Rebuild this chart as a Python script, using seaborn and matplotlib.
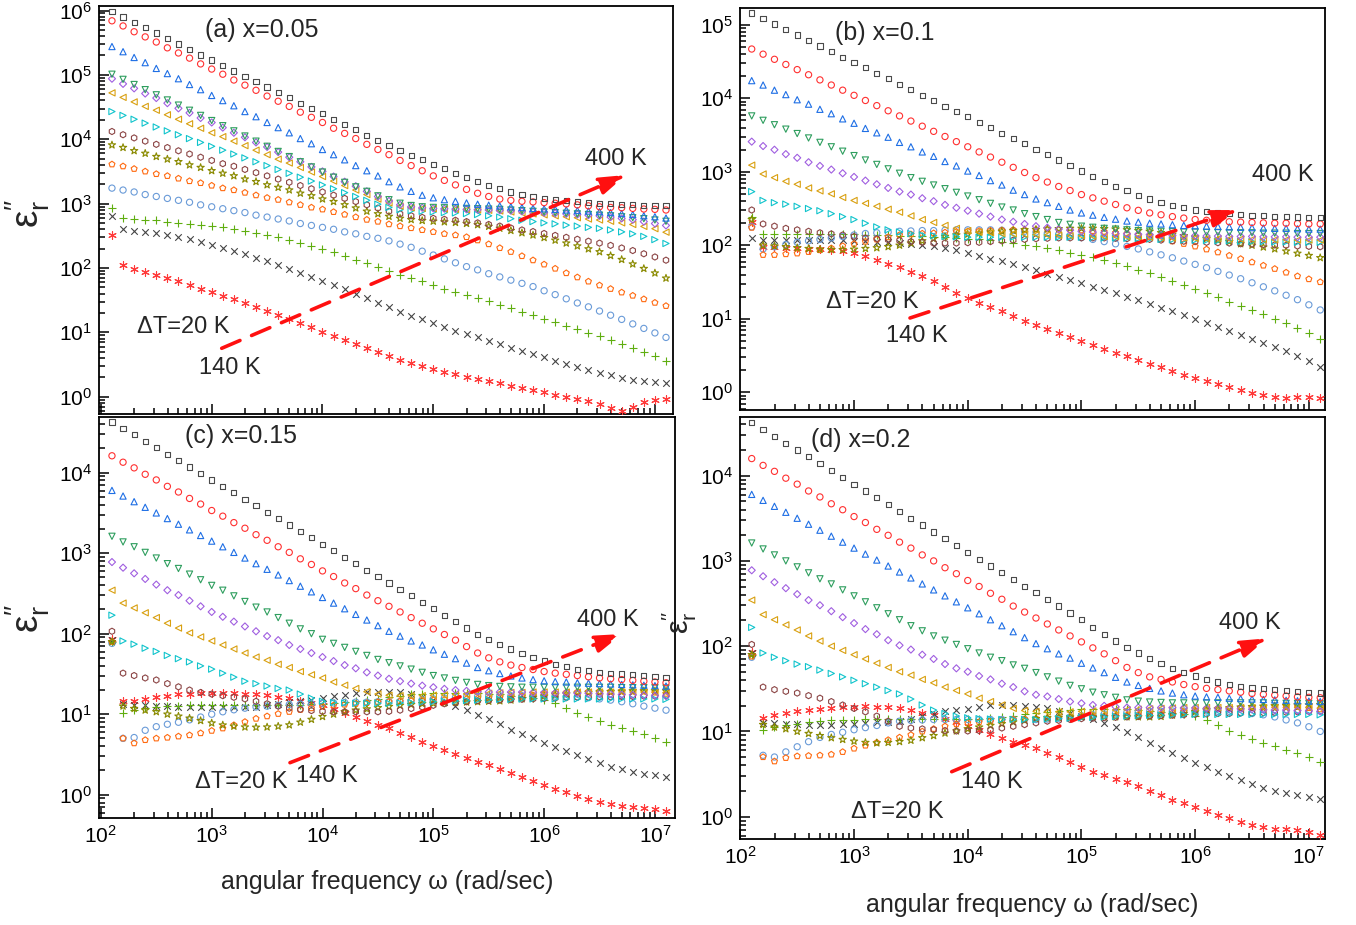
import numpy as np
import pandas as pd
import matplotlib
matplotlib.use("Agg")
import matplotlib.pyplot as plt
import seaborn as sns
from matplotlib.ticker import FixedLocator, LogFormatterMathtext, NullFormatter
from matplotlib.patches import FancyArrowPatch, ArrowStyle

# ---------------- data (log10 values) ----------------
log_omega = [2.1, 2.2, 2.3, 2.4, 2.5, 2.6, 2.7, 2.8, 2.9, 3.0,
             3.1, 3.2, 3.3, 3.4, 3.5, 3.6, 3.7, 3.8, 3.9, 4.0,
             4.1, 4.2, 4.3, 4.4, 4.5, 4.6, 4.7, 4.8, 4.9, 5.0,
             5.1, 5.2, 5.3, 5.4, 5.5, 5.6, 5.7, 5.8, 5.9, 6.0,
             6.1, 6.2, 6.3, 6.4, 6.5, 6.6, 6.7, 6.8, 6.9, 7.0,
             7.1]
temperatures = [400, 380, 360, 340, 320, 300, 280, 260, 240, 220, 200, 180, 160, 140]

# ---- panel (a) x=0.05 ----
a_400 = [5.98, 5.90, 5.81, 5.73, 5.65, 5.56, 5.48, 5.40, 5.31, 5.23,
         5.15, 5.06, 4.98, 4.90, 4.81, 4.73, 4.65, 4.56, 4.48, 4.40,
         4.31, 4.23, 4.15, 4.06, 3.98, 3.90, 3.82, 3.75, 3.68, 3.61,
         3.54, 3.47, 3.40, 3.34, 3.28, 3.23, 3.18, 3.14, 3.105, 3.08,
         3.06, 3.045, 3.03, 3.015, 3.00, 2.995, 2.99, 2.98, 2.975, 2.97,
         2.965]
a_380 = [5.84, 5.76, 5.67, 5.59, 5.51, 5.42, 5.34, 5.26, 5.17, 5.09,
         5.01, 4.92, 4.84, 4.76, 4.67, 4.59, 4.51, 4.42, 4.34, 4.26,
         4.17, 4.09, 4.01, 3.92, 3.84, 3.76, 3.67, 3.59, 3.51, 3.43,
         3.36, 3.29, 3.22, 3.16, 3.11, 3.07, 3.05, 3.035, 3.025, 3.015,
         3.005, 2.995, 2.98, 2.965, 2.95, 2.94, 2.935, 2.925, 2.915, 2.91,
         2.90]
a_360 = [5.44, 5.36, 5.27, 5.19, 5.10, 5.02, 4.94, 4.85, 4.77, 4.68,
         4.60, 4.52, 4.43, 4.35, 4.26, 4.18, 4.10, 4.01, 3.93, 3.84,
         3.76, 3.68, 3.59, 3.51, 3.43, 3.34, 3.26, 3.19, 3.13, 3.09,
         3.06, 3.035, 3.01, 2.99, 2.975, 2.963, 2.95, 2.938, 2.926, 2.918,
         2.91, 2.90, 2.892, 2.883, 2.874, 2.86, 2.845, 2.83, 2.81, 2.795,
         2.775]
a_340 = [5.01, 4.93, 4.85, 4.77, 4.69, 4.61, 4.53, 4.45, 4.37, 4.29,
         4.21, 4.13, 4.05, 3.97, 3.89, 3.81, 3.73, 3.65, 3.57, 3.49,
         3.41, 3.33, 3.26, 3.19, 3.12, 3.06, 3.005, 2.97, 2.95, 2.94,
         2.935, 2.93, 2.925, 2.92, 2.915, 2.91, 2.90, 2.89, 2.88, 2.87,
         2.86, 2.85, 2.84, 2.83, 2.82, 2.81, 2.795, 2.78, 2.765, 2.745,
         2.725]
a_320 = [4.94, 4.86, 4.79, 4.71, 4.64, 4.56, 4.48, 4.41, 4.33, 4.26,
         4.18, 4.10, 4.03, 3.95, 3.88, 3.80, 3.72, 3.65, 3.57, 3.50,
         3.42, 3.34, 3.27, 3.19, 3.11, 3.04, 2.98, 2.95, 2.935, 2.925,
         2.92, 2.915, 2.91, 2.905, 2.90, 2.895, 2.89, 2.88, 2.87, 2.86,
         2.85, 2.84, 2.83, 2.82, 2.81, 2.79, 2.77, 2.75, 2.72, 2.69,
         2.66]
a_300 = [4.72, 4.65, 4.58, 4.51, 4.45, 4.38, 4.31, 4.24, 4.17, 4.10,
         4.04, 3.97, 3.90, 3.83, 3.76, 3.69, 3.63, 3.56, 3.49, 3.42,
         3.35, 3.28, 3.21, 3.14, 3.07, 3.01, 2.96, 2.935, 2.925, 2.92,
         2.915, 2.91, 2.905, 2.90, 2.895, 2.885, 2.87, 2.855, 2.84, 2.825,
         2.81, 2.795, 2.78, 2.76, 2.745, 2.725, 2.70, 2.675, 2.645, 2.61,
         2.555]
a_280 = [4.43, 4.37, 4.31, 4.25, 4.19, 4.13, 4.07, 4.01, 3.95, 3.89,
         3.83, 3.77, 3.71, 3.65, 3.59, 3.53, 3.47, 3.41, 3.35, 3.29,
         3.23, 3.17, 3.11, 3.05, 2.99, 2.94, 2.905, 2.89, 2.88, 2.87,
         2.86, 2.855, 2.845, 2.83, 2.81, 2.79, 2.765, 2.74, 2.72, 2.70,
         2.685, 2.665, 2.65, 2.63, 2.615, 2.59, 2.56, 2.53, 2.49, 2.44,
         2.38]
a_260 = [4.12, 4.07, 4.02, 3.97, 3.92, 3.87, 3.82, 3.77, 3.72, 3.67,
         3.62, 3.58, 3.53, 3.48, 3.43, 3.38, 3.33, 3.28, 3.23, 3.18,
         3.13, 3.08, 3.03, 2.98, 2.93, 2.88, 2.84, 2.81, 2.785, 2.77,
         2.755, 2.74, 2.72, 2.70, 2.675, 2.65, 2.62, 2.59, 2.565, 2.535,
         2.505, 2.475, 2.445, 2.415, 2.385, 2.35, 2.31, 2.27, 2.22, 2.17,
         2.12]
a_240 = [3.91, 3.87, 3.82, 3.78, 3.73, 3.69, 3.65, 3.60, 3.56, 3.51,
         3.47, 3.43, 3.38, 3.34, 3.29, 3.25, 3.21, 3.16, 3.12, 3.07,
         3.03, 2.98, 2.93, 2.88, 2.84, 2.80, 2.77, 2.75, 2.735, 2.725,
         2.715, 2.705, 2.69, 2.67, 2.645, 2.615, 2.58, 2.545, 2.51, 2.47,
         2.43, 2.385, 2.34, 2.295, 2.25, 2.19, 2.13, 2.06, 1.99, 1.92,
         1.84]
a_220 = [3.61, 3.58, 3.54, 3.50, 3.46, 3.43, 3.39, 3.35, 3.32, 3.28,
         3.24, 3.21, 3.17, 3.13, 3.09, 3.06, 3.02, 2.98, 2.94, 2.91,
         2.87, 2.83, 2.79, 2.75, 2.72, 2.68, 2.65, 2.62, 2.59, 2.56,
         2.53, 2.51, 2.48, 2.43, 2.37, 2.31, 2.25, 2.185, 2.12, 2.055,
         1.99, 1.92, 1.855, 1.79, 1.73, 1.675, 1.62, 1.57, 1.515, 1.46,
         1.41]
a_200 = [3.24, 3.21, 3.18, 3.14, 3.11, 3.08, 3.05, 3.02, 2.98, 2.95,
         2.92, 2.89, 2.86, 2.82, 2.79, 2.76, 2.73, 2.69, 2.66, 2.63,
         2.60, 2.56, 2.53, 2.49, 2.46, 2.42, 2.37, 2.32, 2.26, 2.20,
         2.14, 2.08, 2.02, 1.97, 1.91, 1.86, 1.81, 1.76, 1.71, 1.645,
         1.585, 1.52, 1.455, 1.395, 1.33, 1.265, 1.20, 1.13, 1.06, 0.99,
         0.92]
a_180 = [2.93, 2.77, 2.76, 2.75, 2.74, 2.72, 2.705, 2.69, 2.67, 2.65,
         2.63, 2.605, 2.58, 2.55, 2.515, 2.475, 2.435, 2.39, 2.345, 2.30,
         2.245, 2.19, 2.13, 2.07, 2.01, 1.95, 1.89, 1.84, 1.79, 1.74,
         1.68, 1.63, 1.58, 1.53, 1.48, 1.43, 1.37, 1.32, 1.27, 1.21,
         1.16, 1.10, 1.05, 0.99, 0.94, 0.88, 0.82, 0.76, 0.70, 0.63,
         0.55]
a_160 = [2.81, 2.60, 2.58, 2.56, 2.54, 2.51, 2.48, 2.445, 2.405, 2.36,
         2.31, 2.26, 2.21, 2.16, 2.10, 2.04, 1.98, 1.92, 1.86, 1.80,
         1.73, 1.67, 1.60, 1.53, 1.46, 1.39, 1.32, 1.26, 1.20, 1.14,
         1.08, 1.02, 0.97, 0.92, 0.86, 0.81, 0.76, 0.71, 0.66, 0.61,
         0.56, 0.51, 0.46, 0.41, 0.37, 0.33, 0.29, 0.265, 0.245, 0.23,
         0.215]
a_140 = [2.51, 2.04, 1.99, 1.94, 1.89, 1.84, 1.79, 1.735, 1.68, 1.62,
         1.565, 1.51, 1.455, 1.395, 1.335, 1.27, 1.205, 1.14, 1.075, 1.01,
         0.945, 0.88, 0.815, 0.75, 0.69, 0.63, 0.57, 0.52, 0.475, 0.43,
         0.39, 0.35, 0.31, 0.275, 0.24, 0.205, 0.17, 0.135, 0.10, 0.065,
         0.03, -0.005, -0.04, -0.075, -0.11, -0.17, -0.23, -0.16, -0.08, -0.045,
         -0.035]

# ---- panel (b) x=0.1 ----
b_400 = [5.16, 5.09, 5.01, 4.94, 4.86, 4.79, 4.71, 4.64, 4.56, 4.49,
         4.42, 4.34, 4.27, 4.19, 4.12, 4.04, 3.97, 3.89, 3.82, 3.75,
         3.67, 3.60, 3.52, 3.45, 3.38, 3.30, 3.23, 3.16, 3.08, 3.01,
         2.94, 2.87, 2.80, 2.74, 2.68, 2.63, 2.58, 2.54, 2.51, 2.48,
         2.46, 2.44, 2.43, 2.42, 2.41, 2.40, 2.395, 2.39, 2.385, 2.38,
         2.375]
b_380 = [4.67, 4.60, 4.53, 4.46, 4.39, 4.32, 4.25, 4.18, 4.11, 4.04,
         3.97, 3.90, 3.83, 3.76, 3.69, 3.62, 3.55, 3.48, 3.41, 3.34,
         3.27, 3.20, 3.13, 3.06, 2.99, 2.92, 2.86, 2.80, 2.745, 2.69,
         2.645, 2.60, 2.555, 2.51, 2.475, 2.44, 2.415, 2.39, 2.37, 2.35,
         2.34, 2.33, 2.32, 2.315, 2.31, 2.305, 2.30, 2.30, 2.295, 2.29,
         2.29]
b_360 = [4.24, 4.18, 4.11, 4.05, 3.98, 3.92, 3.85, 3.79, 3.72, 3.66,
         3.59, 3.53, 3.47, 3.40, 3.34, 3.27, 3.21, 3.14, 3.08, 3.01,
         2.95, 2.88, 2.82, 2.75, 2.69, 2.63, 2.58, 2.53, 2.48, 2.44,
         2.41, 2.38, 2.355, 2.33, 2.315, 2.30, 2.29, 2.28, 2.27, 2.265,
         2.26, 2.255, 2.25, 2.245, 2.24, 2.235, 2.23, 2.23, 2.225, 2.22,
         2.22]
b_340 = [3.76, 3.70, 3.64, 3.58, 3.52, 3.46, 3.40, 3.34, 3.28, 3.22,
         3.16, 3.10, 3.04, 2.98, 2.92, 2.87, 2.82, 2.77, 2.72, 2.67,
         2.62, 2.57, 2.52, 2.48, 2.43, 2.39, 2.35, 2.31, 2.285, 2.26,
         2.245, 2.23, 2.22, 2.21, 2.20, 2.195, 2.19, 2.185, 2.18, 2.18,
         2.175, 2.175, 2.17, 2.17, 2.17, 2.165, 2.165, 2.165, 2.16, 2.16,
         2.16]
b_320 = [3.41, 3.35, 3.30, 3.24, 3.19, 3.13, 3.08, 3.03, 2.98, 2.93,
         2.88, 2.83, 2.78, 2.73, 2.69, 2.64, 2.60, 2.55, 2.51, 2.47,
         2.43, 2.39, 2.35, 2.32, 2.29, 2.26, 2.24, 2.22, 2.205, 2.19,
         2.18, 2.17, 2.16, 2.155, 2.15, 2.145, 2.14, 2.135, 2.13, 2.13,
         2.125, 2.125, 2.12, 2.12, 2.12, 2.115, 2.115, 2.115, 2.11, 2.11,
         2.11]
b_300 = [3.09, 2.97, 2.92, 2.87, 2.83, 2.78, 2.74, 2.70, 2.65, 2.61,
         2.57, 2.53, 2.49, 2.45, 2.40, 2.35, 2.31, 2.27, 2.23, 2.20,
         2.18, 2.17, 2.16, 2.155, 2.15, 2.145, 2.14, 2.135, 2.13, 2.13,
         2.125, 2.12, 2.12, 2.115, 2.11, 2.11, 2.105, 2.10, 2.10, 2.095,
         2.09, 2.09, 2.085, 2.085, 2.08, 2.08, 2.075, 2.075, 2.07, 2.07,
         2.07]
b_280 = [2.73, 2.61, 2.58, 2.56, 2.53, 2.50, 2.47, 2.43, 2.39, 2.35,
         2.30, 2.25, 2.21, 2.18, 2.16, 2.14, 2.13, 2.12, 2.115, 2.11,
         2.11, 2.11, 2.11, 2.11, 2.11, 2.11, 2.11, 2.11, 2.11, 2.11,
         2.105, 2.10, 2.10, 2.095, 2.09, 2.085, 2.08, 2.075, 2.07, 2.07,
         2.065, 2.06, 2.06, 2.055, 2.05, 2.05, 2.045, 2.045, 2.04, 2.04,
         2.04]
b_260 = [2.48, 2.29, 2.26, 2.23, 2.21, 2.19, 2.17, 2.155, 2.14, 2.12,
         2.10, 2.09, 2.075, 2.065, 2.05, 2.04, 2.03, 2.03, 2.03, 2.035,
         2.04, 2.05, 2.06, 2.07, 2.08, 2.09, 2.095, 2.10, 2.10, 2.10,
         2.10, 2.10, 2.095, 2.09, 2.085, 2.08, 2.07, 2.06, 2.055, 2.05,
         2.04, 2.035, 2.03, 2.02, 2.015, 2.01, 2.005, 2.00, 1.99, 1.985,
         1.98]
b_240 = [2.35, 2.00, 1.99, 1.98, 1.965, 1.955, 1.945, 1.94, 1.94, 1.945,
         1.955, 1.965, 1.98, 2.00, 2.03, 2.06, 2.09, 2.12, 2.14, 2.15,
         2.165, 2.18, 2.19, 2.20, 2.21, 2.215, 2.22, 2.225, 2.23, 2.23,
         2.23, 2.225, 2.22, 2.21, 2.20, 2.19, 2.17, 2.15, 2.13, 2.11,
         2.09, 2.07, 2.05, 2.02, 2.00, 1.975, 1.95, 1.92, 1.89, 1.86,
         1.83]
b_220 = [2.24, 1.87, 1.87, 1.88, 1.89, 1.91, 1.935, 1.96, 1.99, 2.02,
         2.05, 2.08, 2.11, 2.14, 2.15, 2.16, 2.165, 2.175, 2.185, 2.19,
         2.195, 2.20, 2.205, 2.21, 2.21, 2.215, 2.215, 2.215, 2.21, 2.205,
         2.195, 2.185, 2.17, 2.155, 2.135, 2.11, 2.085, 2.055, 2.02, 1.985,
         1.945, 1.905, 1.86, 1.815, 1.77, 1.725, 1.68, 1.63, 1.58, 1.54,
         1.50]
b_200 = [2.25, 1.95, 1.98, 2.01, 2.04, 2.06, 2.08, 2.10, 2.12, 2.14,
         2.16, 2.17, 2.18, 2.19, 2.195, 2.20, 2.20, 2.205, 2.21, 2.21,
         2.21, 2.21, 2.205, 2.20, 2.19, 2.18, 2.165, 2.15, 2.13, 2.105,
         2.08, 2.05, 2.02, 1.985, 1.95, 1.91, 1.87, 1.83, 1.785, 1.74,
         1.695, 1.645, 1.595, 1.545, 1.49, 1.435, 1.38, 1.32, 1.26, 1.19,
         1.12]
b_180 = [2.39, 2.16, 2.16, 2.16, 2.16, 2.16, 2.16, 2.16, 2.155, 2.15,
         2.145, 2.14, 2.135, 2.13, 2.125, 2.12, 2.115, 2.11, 2.10, 2.09,
         2.08, 2.065, 2.05, 2.03, 2.01, 1.985, 1.96, 1.93, 1.90, 1.87,
         1.835, 1.80, 1.76, 1.715, 1.67, 1.62, 1.57, 1.515, 1.46, 1.40,
         1.345, 1.29, 1.235, 1.18, 1.12, 1.06, 1.00, 0.94, 0.87, 0.80,
         0.73]
b_160 = [2.10, 2.07, 2.07, 2.07, 2.07, 2.07, 2.07, 2.07, 2.065, 2.06,
         2.055, 2.05, 2.04, 2.03, 2.02, 2.005, 1.99, 1.96, 1.93, 1.90,
         1.86, 1.82, 1.78, 1.74, 1.70, 1.66, 1.615, 1.57, 1.525, 1.48,
         1.435, 1.39, 1.345, 1.30, 1.25, 1.20, 1.15, 1.10, 1.05, 0.995,
         0.94, 0.885, 0.83, 0.775, 0.72, 0.665, 0.61, 0.555, 0.49, 0.42,
         0.35]
b_140 = [2.32, 1.98, 1.97, 1.965, 1.96, 1.955, 1.95, 1.94, 1.92, 1.89,
         1.85, 1.80, 1.75, 1.70, 1.64, 1.58, 1.51, 1.43, 1.35, 1.28,
         1.22, 1.16, 1.10, 1.04, 0.97, 0.91, 0.86, 0.80, 0.75, 0.70,
         0.645, 0.59, 0.54, 0.49, 0.44, 0.39, 0.34, 0.29, 0.24, 0.20,
         0.155, 0.11, 0.07, 0.03, -0.01, -0.04, -0.065, -0.075, -0.07, -0.07,
         -0.08]

# ---- panel (c) x=0.15 ----
c_400 = [4.63, 4.55, 4.47, 4.39, 4.31, 4.23, 4.15, 4.07, 3.99, 3.91,
         3.83, 3.75, 3.67, 3.59, 3.51, 3.43, 3.35, 3.27, 3.19, 3.11,
         3.03, 2.95, 2.87, 2.79, 2.71, 2.63, 2.55, 2.47, 2.39, 2.31,
         2.23, 2.15, 2.07, 1.99, 1.93, 1.87, 1.81, 1.75, 1.70, 1.66,
         1.62, 1.59, 1.56, 1.54, 1.52, 1.51, 1.50, 1.49, 1.48, 1.47,
         1.46]
c_380 = [4.21, 4.13, 4.06, 3.98, 3.91, 3.83, 3.76, 3.68, 3.61, 3.53,
         3.46, 3.38, 3.31, 3.23, 3.16, 3.08, 3.01, 2.93, 2.86, 2.78,
         2.71, 2.63, 2.56, 2.48, 2.41, 2.34, 2.27, 2.20, 2.13, 2.06,
         1.99, 1.92, 1.84, 1.76, 1.70, 1.65, 1.61, 1.58, 1.555, 1.53,
         1.51, 1.495, 1.48, 1.465, 1.45, 1.44, 1.43, 1.42, 1.41, 1.40,
         1.39]
c_360 = [3.78, 3.71, 3.64, 3.57, 3.50, 3.43, 3.36, 3.29, 3.22, 3.15,
         3.08, 3.01, 2.94, 2.87, 2.80, 2.73, 2.66, 2.59, 2.52, 2.45,
         2.38, 2.31, 2.24, 2.17, 2.10, 2.03, 1.97, 1.91, 1.86, 1.80,
         1.745, 1.69, 1.635, 1.58, 1.54, 1.505, 1.475, 1.45, 1.43, 1.415,
         1.405, 1.40, 1.39, 1.385, 1.38, 1.375, 1.37, 1.365, 1.36, 1.355,
         1.35]
c_340 = [3.21, 3.14, 3.08, 3.01, 2.94, 2.87, 2.81, 2.74, 2.67, 2.60,
         2.54, 2.47, 2.40, 2.33, 2.27, 2.20, 2.13, 2.06, 2.00, 1.93,
         1.88, 1.83, 1.78, 1.73, 1.68, 1.64, 1.60, 1.56, 1.52, 1.48,
         1.45, 1.42, 1.395, 1.37, 1.355, 1.345, 1.34, 1.335, 1.335, 1.335,
         1.335, 1.335, 1.335, 1.335, 1.335, 1.335, 1.33, 1.33, 1.33, 1.33,
         1.325]
c_320 = [2.89, 2.82, 2.75, 2.68, 2.61, 2.54, 2.48, 2.41, 2.34, 2.27,
         2.21, 2.15, 2.09, 2.03, 1.97, 1.92, 1.86, 1.81, 1.76, 1.71,
         1.66, 1.61, 1.57, 1.52, 1.48, 1.44, 1.41, 1.38, 1.355, 1.335,
         1.315, 1.30, 1.29, 1.28, 1.275, 1.275, 1.275, 1.275, 1.27, 1.27,
         1.265, 1.265, 1.26, 1.26, 1.255, 1.25, 1.245, 1.24, 1.235, 1.23,
         1.225]
c_300 = [2.54, 2.38, 2.32, 2.26, 2.20, 2.13, 2.07, 2.01, 1.96, 1.91,
         1.86, 1.81, 1.76, 1.71, 1.67, 1.62, 1.58, 1.53, 1.49, 1.45,
         1.40, 1.36, 1.32, 1.28, 1.25, 1.235, 1.23, 1.23, 1.23, 1.235,
         1.24, 1.245, 1.25, 1.255, 1.26, 1.265, 1.27, 1.27, 1.275, 1.275,
         1.275, 1.275, 1.275, 1.275, 1.275, 1.275, 1.275, 1.275, 1.275, 1.27,
         1.27]
c_280 = [2.23, 1.91, 1.87, 1.82, 1.78, 1.73, 1.69, 1.65, 1.60, 1.56,
         1.51, 1.46, 1.41, 1.38, 1.35, 1.32, 1.30, 1.25, 1.20, 1.16,
         1.145, 1.14, 1.135, 1.135, 1.135, 1.135, 1.14, 1.145, 1.15, 1.155,
         1.16, 1.165, 1.17, 1.175, 1.18, 1.185, 1.185, 1.19, 1.19, 1.19,
         1.19, 1.19, 1.19, 1.19, 1.19, 1.19, 1.19, 1.19, 1.19, 1.19,
         1.185]
c_260 = [2.03, 1.51, 1.48, 1.45, 1.425, 1.38, 1.34, 1.30, 1.27, 1.25,
         1.23, 1.21, 1.19, 1.16, 1.13, 1.10, 1.075, 1.06, 1.045, 1.035,
         1.03, 1.03, 1.03, 1.03, 1.03, 1.035, 1.05, 1.07, 1.09, 1.11,
         1.13, 1.145, 1.155, 1.165, 1.17, 1.175, 1.18, 1.185, 1.19, 1.195,
         1.20, 1.205, 1.21, 1.21, 1.215, 1.215, 1.22, 1.22, 1.225, 1.225,
         1.23]
c_240 = [1.90, 1.10, 1.07, 1.05, 1.03, 1.00, 0.975, 0.95, 0.92, 0.89,
         0.865, 0.85, 0.84, 0.837, 0.84, 0.85, 0.866, 0.90, 0.935, 0.97,
         1.00, 1.03, 1.05, 1.065, 1.08, 1.095, 1.11, 1.12, 1.13, 1.135,
         1.14, 1.145, 1.15, 1.155, 1.16, 1.165, 1.175, 1.19, 1.21, 1.225,
         1.24, 1.25, 1.26, 1.27, 1.275, 1.28, 1.285, 1.29, 1.29, 1.29,
         1.29]
c_220 = [1.90, 0.70, 0.64, 0.68, 0.70, 0.71, 0.725, 0.74, 0.765, 0.795,
         0.825, 0.865, 0.905, 0.945, 0.975, 1.005, 1.03, 1.055, 1.075, 1.095,
         1.11, 1.12, 1.13, 1.14, 1.15, 1.155, 1.16, 1.165, 1.17, 1.175,
         1.18, 1.185, 1.19, 1.195, 1.20, 1.205, 1.21, 1.22, 1.235, 1.25,
         1.26, 1.27, 1.275, 1.28, 1.285, 1.285, 1.29, 1.29, 1.285, 1.27,
         1.255]
c_200 = [1.88, 0.70, 0.71, 0.80, 0.845, 0.875, 0.90, 0.93, 0.965, 1.00,
         1.03, 1.055, 1.075, 1.09, 1.10, 1.11, 1.12, 1.125, 1.13, 1.135,
         1.14, 1.145, 1.15, 1.15, 1.155, 1.156, 1.16, 1.17, 1.18, 1.19,
         1.20, 1.21, 1.215, 1.22, 1.225, 1.23, 1.23, 1.23, 1.23, 1.23,
         1.225, 1.22, 1.215, 1.205, 1.19, 1.175, 1.155, 1.13, 1.10, 1.075,
         1.05]
c_180 = [1.90, 1.02, 1.05, 1.075, 1.094, 1.10, 1.105, 1.11, 1.11, 1.115,
         1.115, 1.115, 1.115, 1.115, 1.115, 1.115, 1.115, 1.12, 1.125, 1.13,
         1.14, 1.15, 1.16, 1.175, 1.195, 1.215, 1.23, 1.245, 1.255, 1.26,
         1.265, 1.265, 1.265, 1.26, 1.255, 1.245, 1.23, 1.215, 1.20, 1.18,
         1.135, 1.075, 1.015, 0.965, 0.915, 0.87, 0.83, 0.79, 0.75, 0.70,
         0.65]
c_160 = [1.92, 1.13, 1.12, 1.11, 1.10, 1.10, 1.095, 1.094, 1.09, 1.09,
         1.09, 1.09, 1.09, 1.095, 1.11, 1.13, 1.15, 1.165, 1.18, 1.197,
         1.22, 1.24, 1.26, 1.27, 1.275, 1.28, 1.27, 1.245, 1.215, 1.18,
         1.15, 1.10, 1.05, 0.995, 0.935, 0.875, 0.81, 0.755, 0.70, 0.645,
         0.595, 0.54, 0.49, 0.44, 0.395, 0.35, 0.315, 0.285, 0.26, 0.24,
         0.22]
c_140 = [1.93, 1.16, 1.17, 1.19, 1.21, 1.23, 1.245, 1.255, 1.26, 1.26,
         1.26, 1.26, 1.255, 1.25, 1.235, 1.215, 1.20, 1.17, 1.145, 1.115,
         1.07, 1.02, 0.97, 0.92, 0.87, 0.825, 0.77, 0.715, 0.66, 0.605,
         0.55, 0.50, 0.455, 0.41, 0.365, 0.315, 0.265, 0.215, 0.165, 0.12,
         0.075, 0.03, -0.01, -0.05, -0.085, -0.115, -0.135, -0.15, -0.165, -0.18,
         -0.20]

# ---- panel (d) x=0.2 ----
d_400 = [4.62, 4.54, 4.46, 4.38, 4.30, 4.22, 4.14, 4.06, 3.98, 3.90,
         3.82, 3.74, 3.66, 3.58, 3.50, 3.42, 3.34, 3.26, 3.18, 3.10,
         3.02, 2.94, 2.86, 2.78, 2.70, 2.63, 2.55, 2.47, 2.39, 2.31,
         2.22, 2.14, 2.06, 1.98, 1.92, 1.86, 1.80, 1.74, 1.69, 1.65,
         1.61, 1.58, 1.55, 1.53, 1.51, 1.50, 1.49, 1.48, 1.47, 1.46,
         1.45]
d_380 = [4.20, 4.12, 4.05, 3.97, 3.90, 3.82, 3.75, 3.67, 3.60, 3.52,
         3.45, 3.37, 3.30, 3.22, 3.15, 3.07, 3.00, 2.92, 2.85, 2.77,
         2.70, 2.62, 2.55, 2.47, 2.40, 2.33, 2.26, 2.19, 2.12, 2.05,
         1.98, 1.91, 1.83, 1.75, 1.69, 1.64, 1.61, 1.58, 1.55, 1.525,
         1.505, 1.49, 1.475, 1.46, 1.445, 1.435, 1.425, 1.415, 1.405, 1.40,
         1.395]
d_360 = [3.78, 3.71, 3.64, 3.57, 3.50, 3.43, 3.36, 3.29, 3.22, 3.15,
         3.08, 3.01, 2.94, 2.87, 2.80, 2.73, 2.66, 2.59, 2.52, 2.45,
         2.38, 2.31, 2.24, 2.17, 2.10, 2.03, 1.97, 1.91, 1.86, 1.80,
         1.745, 1.69, 1.635, 1.58, 1.54, 1.505, 1.475, 1.45, 1.43, 1.415,
         1.405, 1.40, 1.39, 1.385, 1.38, 1.375, 1.37, 1.365, 1.36, 1.355,
         1.35]
d_340 = [3.21, 3.14, 3.07, 3.00, 2.93, 2.86, 2.79, 2.73, 2.66, 2.59,
         2.52, 2.45, 2.38, 2.31, 2.24, 2.18, 2.12, 2.07, 2.02, 1.97,
         1.92, 1.87, 1.83, 1.78, 1.74, 1.69, 1.64, 1.59, 1.54, 1.50,
         1.46, 1.43, 1.40, 1.37, 1.355, 1.345, 1.34, 1.335, 1.335, 1.335,
         1.335, 1.335, 1.335, 1.335, 1.335, 1.335, 1.33, 1.33, 1.33, 1.33,
         1.325]
d_320 = [2.89, 2.82, 2.75, 2.68, 2.61, 2.54, 2.48, 2.41, 2.34, 2.27,
         2.20, 2.14, 2.07, 2.01, 1.96, 1.90, 1.85, 1.79, 1.74, 1.70,
         1.65, 1.61, 1.56, 1.52, 1.47, 1.43, 1.41, 1.38, 1.35, 1.33,
         1.31, 1.30, 1.29, 1.28, 1.28, 1.28, 1.28, 1.28, 1.275, 1.275,
         1.27, 1.27, 1.265, 1.265, 1.26, 1.255, 1.25, 1.25, 1.245, 1.24,
         1.235]
d_300 = [2.54, 2.37, 2.31, 2.25, 2.19, 2.12, 2.06, 2.00, 1.95, 1.90,
         1.85, 1.80, 1.75, 1.70, 1.66, 1.61, 1.57, 1.52, 1.48, 1.44,
         1.39, 1.35, 1.31, 1.27, 1.245, 1.235, 1.23, 1.23, 1.23, 1.235,
         1.24, 1.245, 1.25, 1.255, 1.26, 1.265, 1.27, 1.275, 1.28, 1.28,
         1.28, 1.28, 1.28, 1.28, 1.28, 1.28, 1.28, 1.28, 1.28, 1.28,
         1.275]
d_280 = [2.22, 1.92, 1.87, 1.83, 1.79, 1.76, 1.72, 1.68, 1.64, 1.60,
         1.56, 1.52, 1.48, 1.44, 1.38, 1.31, 1.25, 1.21, 1.18, 1.16,
         1.15, 1.145, 1.14, 1.14, 1.14, 1.14, 1.145, 1.15, 1.155, 1.16,
         1.165, 1.17, 1.175, 1.18, 1.185, 1.19, 1.19, 1.195, 1.195, 1.20,
         1.20, 1.20, 1.20, 1.20, 1.20, 1.20, 1.20, 1.20, 1.20, 1.20,
         1.195]
d_260 = [2.02, 1.52, 1.49, 1.47, 1.45, 1.42, 1.39, 1.35, 1.31, 1.27,
         1.23, 1.18, 1.12, 1.06, 1.04, 1.03, 1.02, 1.01, 1.005, 1.005,
         1.01, 1.02, 1.04, 1.06, 1.08, 1.10, 1.12, 1.13, 1.14, 1.15,
         1.155, 1.16, 1.165, 1.17, 1.175, 1.18, 1.185, 1.19, 1.195, 1.20,
         1.205, 1.21, 1.21, 1.215, 1.215, 1.22, 1.22, 1.225, 1.23, 1.235,
         1.235]
d_240 = [1.90, 1.08, 1.05, 1.03, 1.00, 0.975, 0.95, 0.925, 0.905, 0.885,
         0.87, 0.865, 0.87, 0.88, 0.895, 0.925, 0.95, 0.98, 1.005, 1.03,
         1.05, 1.07, 1.09, 1.11, 1.13, 1.15, 1.16, 1.165, 1.17, 1.17,
         1.17, 1.17, 1.17, 1.17, 1.17, 1.17, 1.175, 1.19, 1.21, 1.23,
         1.25, 1.265, 1.275, 1.285, 1.29, 1.295, 1.30, 1.305, 1.31, 1.31,
         1.315]
d_220 = [1.88, 0.70, 0.65, 0.69, 0.71, 0.715, 0.72, 0.73, 0.76, 0.80,
         0.835, 0.87, 0.90, 0.93, 0.96, 1.00, 1.03, 1.06, 1.085, 1.10,
         1.11, 1.12, 1.13, 1.14, 1.145, 1.15, 1.155, 1.16, 1.165, 1.17,
         1.175, 1.18, 1.185, 1.19, 1.195, 1.20, 1.205, 1.215, 1.23, 1.245,
         1.26, 1.27, 1.275, 1.28, 1.285, 1.29, 1.295, 1.295, 1.29, 1.275,
         1.26]
d_200 = [1.87, 0.72, 0.70, 0.76, 0.82, 0.88, 0.93, 0.965, 0.99, 1.02,
         1.045, 1.07, 1.10, 1.12, 1.13, 1.135, 1.14, 1.14, 1.14, 1.14,
         1.14, 1.14, 1.14, 1.14, 1.14, 1.14, 1.145, 1.155, 1.17, 1.185,
         1.195, 1.205, 1.215, 1.225, 1.23, 1.235, 1.237, 1.24, 1.24, 1.24,
         1.24, 1.235, 1.235, 1.225, 1.21, 1.195, 1.17, 1.135, 1.10, 1.055,
         1.00]
d_180 = [1.90, 1.02, 1.05, 1.07, 1.09, 1.105, 1.12, 1.13, 1.135, 1.135,
         1.14, 1.14, 1.14, 1.14, 1.14, 1.14, 1.14, 1.14, 1.14, 1.145,
         1.15, 1.16, 1.17, 1.185, 1.20, 1.215, 1.23, 1.245, 1.255, 1.26,
         1.265, 1.265, 1.265, 1.26, 1.255, 1.245, 1.23, 1.215, 1.20, 1.18,
         1.135, 1.075, 1.01, 0.96, 0.91, 0.865, 0.825, 0.785, 0.745, 0.695,
         0.64]
d_160 = [1.92, 1.10, 1.095, 1.09, 1.085, 1.08, 1.08, 1.08, 1.085, 1.09,
         1.095, 1.105, 1.115, 1.125, 1.15, 1.18, 1.21, 1.235, 1.25, 1.265,
         1.285, 1.305, 1.31, 1.31, 1.30, 1.29, 1.27, 1.245, 1.215, 1.18,
         1.15, 1.10, 1.05, 0.995, 0.935, 0.87, 0.80, 0.745, 0.69, 0.635,
         0.585, 0.53, 0.48, 0.43, 0.385, 0.34, 0.305, 0.275, 0.25, 0.23,
         0.21]
d_140 = [1.93, 1.16, 1.19, 1.215, 1.235, 1.25, 1.265, 1.275, 1.285, 1.29,
         1.295, 1.29, 1.285, 1.27, 1.25, 1.22, 1.19, 1.15, 1.11, 1.065,
         1.02, 0.97, 0.925, 0.88, 0.84, 0.80, 0.75, 0.695, 0.64, 0.585,
         0.53, 0.485, 0.445, 0.405, 0.36, 0.305, 0.25, 0.20, 0.155, 0.11,
         0.065, 0.02, -0.02, -0.06, -0.095, -0.125, -0.14, -0.15, -0.16, -0.185,
         -0.215]

panel_titles = ["(a) x=0.05", "(b) x=0.1", "(c) x=0.15", "(d) x=0.2"]
x_label_text = "angular frequency \u03c9 (rad/sec)"
y_label_text = r"$\varepsilon_{r}''$"

# ---------------- style ----------------
sns.set_theme(style="ticks")
plt.rcParams["font.family"] = ["Liberation Sans", "DejaVu Sans"]
plt.rcParams["mathtext.fontset"] = "custom"
plt.rcParams["mathtext.rm"] = "Liberation Sans"
plt.rcParams["mathtext.it"] = "Liberation Sans"
plt.rcParams["mathtext.bf"] = "Liberation Sans:bold"
plt.rcParams["mathtext.default"] = "regular"
plt.rcParams["axes.linewidth"] = 1.3
plt.rcParams["axes.edgecolor"] = "black"

# marker, size, colour, hollow for 400 K ... 140 K
series_style = [
    ("s", 14, "#4a4a4a", True),
    ("o", 20, "#ff3030", True),
    ("^", 20, "#1f6fe5", True),
    ("v", 20, "#2e9e5e", True),
    ("D", 13, "#a05ee0", True),
    ("<", 20, "#d9a010", True),
    (">", 20, "#10c4cc", True),
    ("h", 20, "#8c4646", True),
    ("*", 30, "#8a8a00", True),
    ("p", 20, "#ff6a10", True),
    ("o", 20, "#6a9bd8", True),
    ("+", 28, "#5fae10", False),
    ("x", 22, "#444444", False),
    ((6, 2, 0), 30, "#ff3a3a", False),
]

W, H = 1356, 925
fig = plt.figure(figsize=(W / 100, H / 100), dpi=100)
fig.patch.set_facecolor("white")


def rect(l, t, r, b):
    return [l / W, 1 - b / H, (r - l) / W, (b - t) / H]


def fxy(px, py):
    return (px / W, 1 - py / H)


def major_ticks(lo, hi):
    return [10.0 ** k for k in range(int(np.ceil(lo)), int(np.floor(hi)) + 1)]


def minor_ticks(lo, hi):
    out = []
    for k in range(int(np.floor(lo)), int(np.ceil(hi)) + 1):
        for m in range(2, 10):
            v = m * 10.0 ** k
            if lo <= np.log10(v) <= hi:
                out.append(v)
    return out


panels = [
    dict(rect=rect(99, 6, 673.3, 414), xl=(1.983, 7.166), yl=(-0.27, 6.07),
         data=[a_400, a_380, a_360, a_340, a_320, a_300, a_280, a_260, a_240, a_220, a_200, a_180, a_160, a_140],
         xticklabels=False),
    dict(rect=rect(740, 8.3, 1325, 410), xl=(1.997, 7.142), yl=(-0.241, 5.224),
         data=[b_400, b_380, b_360, b_340, b_320, b_300, b_280, b_260, b_240, b_220, b_200, b_180, b_160, b_140],
         xticklabels=False),
    dict(rect=rect(99, 417.3, 675, 818.3), xl=(1.983, 7.181), yl=(-0.293, 4.688),
         data=[c_400, c_380, c_360, c_340, c_320, c_300, c_280, c_260, c_240, c_220, c_200, c_180, c_160, c_140],
         xticklabels=True),
    dict(rect=rect(740, 417.3, 1325, 839.3), xl=(1.997, 7.142), yl=(-0.265, 4.684),
         data=[d_400, d_380, d_360, d_340, d_320, d_300, d_280, d_260, d_240, d_220, d_200, d_180, d_160, d_140],
         xticklabels=True),
]

omega = 10 ** np.array(log_omega)

for p in panels:
    ax = fig.add_axes(p["rect"])
    ax.set_xscale("log")
    ax.set_yscale("log")
    for temp, vals, (mk, sz, col, hollow) in list(zip(temperatures, p["data"], series_style))[::-1]:
        if len(vals) != len(log_omega):
            raise ValueError(f"length mismatch for {temp}: {len(vals)}")
        df = pd.DataFrame({"omega": omega, "eps": 10 ** np.array(vals), "T": temp})
        sns.scatterplot(data=df, x="omega", y="eps", ax=ax, marker=mk, s=sz,
                        color=col, linewidth=0.8, legend=False, zorder=3)
        coll = ax.collections[-1]
        if hollow:
            coll.set_facecolor("none")
            coll.set_edgecolor(col)
        else:
            coll.set_edgecolor(col)
            coll.set_facecolor(col)
        coll.set_linewidth(0.8)
    ax.set_xlim(10 ** p["xl"][0], 10 ** p["xl"][1])
    ax.set_ylim(10 ** p["yl"][0], 10 ** p["yl"][1])
    ax.set_xlabel("")
    ax.set_ylabel("")
    for axis, lim in ((ax.xaxis, p["xl"]), (ax.yaxis, p["yl"])):
        axis.set_major_locator(FixedLocator(major_ticks(*lim)))
        axis.set_minor_locator(FixedLocator(minor_ticks(*lim)))
        axis.set_major_formatter(LogFormatterMathtext())
        axis.set_minor_formatter(NullFormatter())
    ax.tick_params(which="both", direction="in", top=False, right=False,
                   width=1.1, colors="black", labelsize=15)
    ax.tick_params(which="major", length=7, pad=5)
    ax.tick_params(which="minor", length=4)
    if not p["xticklabels"]:
        ax.xaxis.set_major_formatter(NullFormatter())
        ax.tick_params(axis="x", labelbottom=False)
    for sp in ax.spines.values():
        sp.set_linewidth(1.3)
        sp.set_color("black")
    ax.set_facecolor("white")

# ---------------- texts ----------------
title_pos = [(262, 30), (885, 33), (241, 436), (861, 440)]
for t, (px, py) in zip(panel_titles, title_pos):
    fig.text(*fxy(px, py), t, ha="center", va="center", fontsize=18)

hi_pos = [(616, 159), (1283, 175), (608, 620), (1250, 623)]
lo_pos = [(230, 368), (917, 336), (327, 776), (992, 782)]
dt_pos = [(183, 327), (872, 302), (241, 782), (897, 812)]
for (hx, hy), (lx, ly), (dx, dy) in zip(hi_pos, lo_pos, dt_pos):
    fig.text(*fxy(hx, hy), "400 K", ha="center", va="center", fontsize=17)
    fig.text(*fxy(lx, ly), "140 K", ha="center", va="center", fontsize=17)
    fig.text(*fxy(dx, dy), "\u0394T=20 K", ha="center", va="center", fontsize=17)

arrows = [((221.7, 348.3), (626, 175)), ((910, 318), (1238, 210)),
          ((290, 762.7), (622, 634)), ((951.7, 771.7), (1267.3, 638.3))]
for (x0, y0), (x1, y1) in arrows:
    arr = FancyArrowPatch(fxy(x0, y0), fxy(x1, y1), transform=fig.transFigure,
                          arrowstyle=ArrowStyle("-|>", head_length=0.8, head_width=0.26),
                          mutation_scale=20, color="#ff1010", lw=2.6,
                          linestyle=(0, (5.5, 3.5)), shrinkA=0, shrinkB=0, zorder=10)
    fig.add_artist(arr)

# x labels
fig.text(*fxy(387, 882), x_label_text, ha="center", va="center", fontsize=18)
fig.text(*fxy(1032, 905), x_label_text, ha="center", va="center", fontsize=18)
# y labels
fig.text(*fxy(28, 213), y_label_text, ha="center", va="center", rotation=90, fontsize=28)
fig.text(*fxy(28, 618), y_label_text, ha="center", va="center", rotation=90, fontsize=28)
fig.text(*fxy(679, 622), y_label_text, ha="center", va="center", rotation=90, fontsize=22)

fig.savefig("out.png", dpi=100, facecolor="white")
